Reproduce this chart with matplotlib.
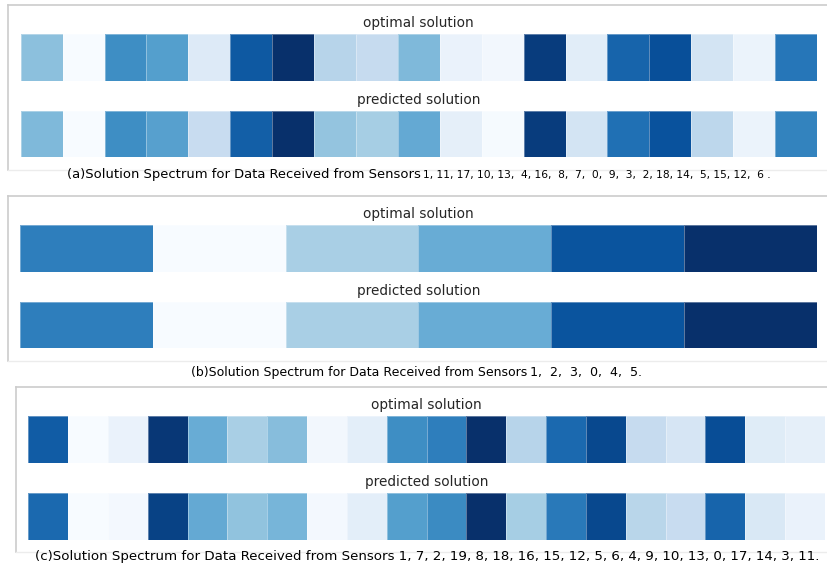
#!/usr/bin/env python
"""Solution spectra: optimal vs predicted, three sensor groups."""

import matplotlib

matplotlib.use("Agg")
import matplotlib.pyplot as plt
import numpy as np
from matplotlib.lines import Line2D

W, H = 828, 567

# (a) 19 sensors
sensors_a = [1, 11, 17, 10, 13, 4, 16, 8, 7, 0, 9, 3, 2, 18, 14, 5, 15, 12, 6]
optimal_a = [0.42, 0.00, 0.64, 0.57, 0.13, 0.84, 1.00, 0.30, 0.25, 0.45,
             0.07, 0.03, 0.95, 0.11, 0.80, 0.88, 0.18, 0.06, 0.73]
predicted_a = [0.45, 0.00, 0.64, 0.56, 0.24, 0.82, 1.00, 0.40, 0.35, 0.52,
               0.09, 0.01, 0.95, 0.18, 0.75, 0.87, 0.28, 0.06, 0.68]

# (b) 6 sensors
sensors_b = [1, 2, 3, 0, 4, 5]
optimal_b = [0.70, 0.00, 0.34, 0.51, 0.86, 1.00]
predicted_b = [0.70, 0.00, 0.34, 0.51, 0.86, 1.00]

# (c) 20 sensors
sensors_c = [1, 7, 2, 19, 8, 18, 16, 15, 12, 5, 6, 4, 9, 10, 13, 0, 17, 14, 3, 11]
optimal_c = [0.83, 0.00, 0.07, 0.97, 0.51, 0.34, 0.43, 0.03, 0.10, 0.64,
             0.70, 1.00, 0.30, 0.78, 0.91, 0.25, 0.17, 0.89, 0.12, 0.09]
predicted_c = [0.78, 0.00, 0.02, 0.93, 0.52, 0.41, 0.47, 0.02, 0.10, 0.57,
               0.65, 1.00, 0.35, 0.72, 0.91, 0.29, 0.24, 0.80, 0.15, 0.07]

TITLE_COLOR = "#262626"


def fx(x):
    return x / W


def fy(y):
    return 1 - y / H


def add_row(fig, x0, x1, y0, y1, values, title):
    ax = fig.add_axes([fx(x0), fy(y1), (x1 - x0) / W, (y1 - y0) / H])
    ax.pcolormesh(
        np.array([values]),
        cmap="Blues",
        vmin=0,
        vmax=1,
        edgecolors=(1, 1, 1, 0.35),
        linewidth=0.5,
    )
    ax.set_xlim(0, len(values))
    ax.set_ylim(0, 1)
    ax.set_axis_off()
    ax.set_title(title, fontsize=9.8, color=TITLE_COLOR, pad=4.8)
    return ax


def add_frame(fig, x0, y0, y1):
    fig.add_artist(Line2D([fx(x0), fx(x0)], [fy(y0), fy(y1)], color="#cccccc", lw=1.2))
    fig.add_artist(Line2D([fx(x0), 1], [fy(y0), fy(y0)], color="#cccccc", lw=1.2))
    fig.add_artist(Line2D([fx(x0), 1], [fy(y1), fy(y1)], color="#ececec", lw=1.0))


def main() -> None:
    fig = plt.figure(figsize=(W / 100, H / 100), dpi=100)

    # panel (a)
    add_frame(fig, 8, 5, 170)
    add_row(fig, 20.7, 817, 34, 80.7, optimal_a, "optimal solution")
    add_row(fig, 20.7, 817, 110.7, 157, predicted_a, "predicted solution")
    fig.text(fx(66.7), fy(178), "(a)Solution Spectrum for Data Received from Sensors",
             fontsize=9.45, va="baseline", ha="left")
    nums_a = ", ".join(f"{s:2d}" for s in sensors_a).strip() + " ."
    fig.text(fx(423), fy(178), nums_a, fontsize=7.7, va="baseline", ha="left")

    # panel (b)
    add_frame(fig, 8, 196, 361)
    add_row(fig, 20, 817, 225, 271.7, optimal_b, "optimal solution")
    add_row(fig, 20, 817, 301.7, 348, predicted_b, "predicted solution")
    fig.text(fx(191), fy(376), "(b)Solution Spectrum for Data Received from Sensors",
             fontsize=9.0, va="baseline", ha="left")
    nums_b = ", ".join(f"{s:2d}" for s in sensors_b).strip() + "."
    fig.text(fx(530), fy(376), nums_b, fontsize=9.1, va="baseline", ha="left")

    # panel (c)
    add_frame(fig, 16, 387, 552)
    add_row(fig, 28.3, 825, 416, 463, optimal_c, "optimal solution")
    add_row(fig, 28.3, 825, 492.7, 539.7, predicted_c, "predicted solution")
    caption_c = ("(c)Solution Spectrum for Data Received from Sensors "
                 + ", ".join(str(s) for s in sensors_c) + ".")
    fig.text(fx(35), fy(560), caption_c, fontsize=9.6, va="baseline", ha="left")

    fig.savefig("out.png", dpi=100)


if __name__ == "__main__":
    main()
